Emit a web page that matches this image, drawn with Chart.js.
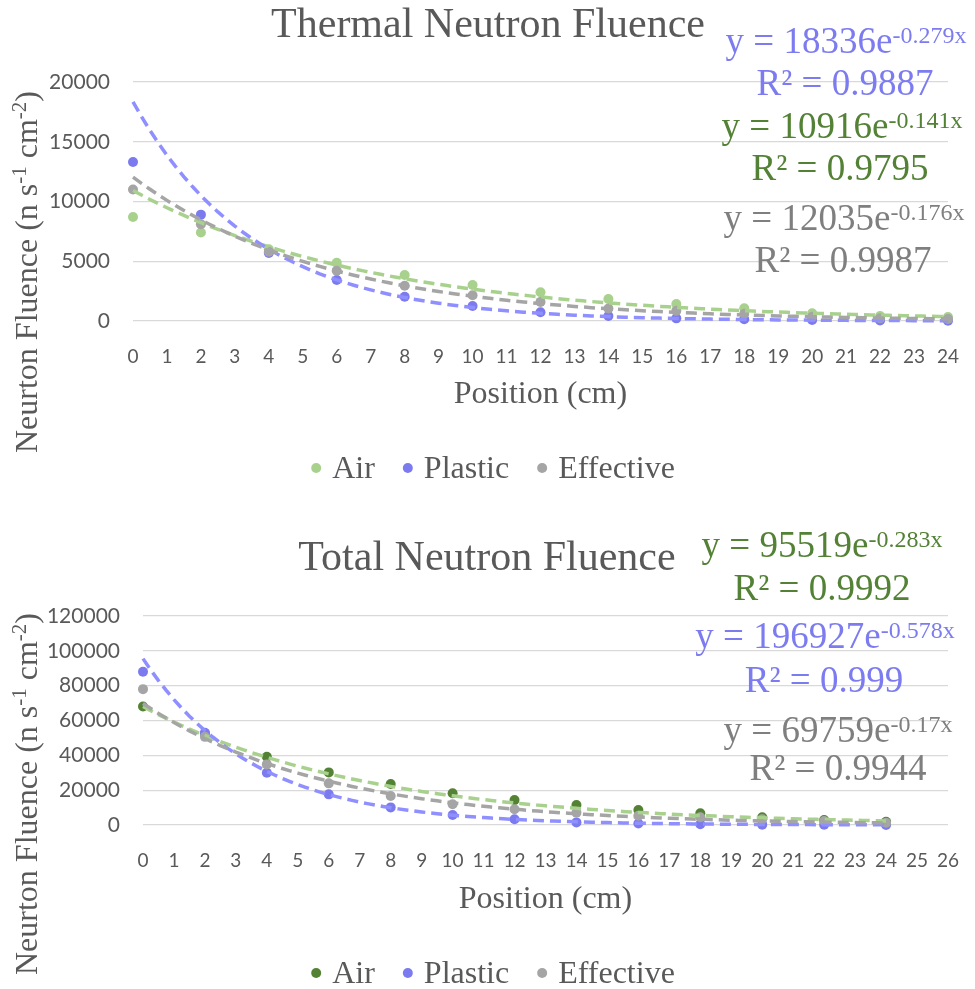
<!DOCTYPE html>
<html>
<head>
<meta charset="utf-8">
<script src="https://cdn.jsdelivr.net/npm/chart.js@4.4.0/dist/chart.umd.min.js"></script>
<style>
    body { margin: 0; background: #ffffff; }
    #wrap { position: relative; width: 975px; height: 989px; }
    canvas { position: absolute; left: 0; }
</style>
</head>
<body>
<div id="wrap">
    <canvas id="thermalCanvas" width="975" height="490" style="top:0px"></canvas>
    <canvas id="totalCanvas" width="975" height="499" style="top:490px"></canvas>
</div>
<script>
// 测量位置 (cm)
const positions = [0, 2, 4, 6, 8, 10, 12, 14, 16, 18, 20, 22, 24];
const seriesNames = ['Air', 'Plastic', 'Effective'];

// 热中子注量
const thermalAir = [8700, 7400, 6000, 4880, 3850, 3010, 2400, 1840, 1420, 1060, 640, 420, 330];
const thermalPlastic = [13300, 8900, 5700, 3430, 2035, 1255, 730, 420, 220, 140, 80, 50, 30];
const thermalEffective = [11000, 8100, 5800, 4200, 2950, 2150, 1600, 1050, 850, 600, 360, 230, 170];
const thermalYTicks = { max: 20000, step: 5000 };
// 指数趋势线 y = a·e^(-b·x)，顺序 Air / Plastic / Effective
const thermalTrendA = [10916, 18336, 12035];
const thermalTrendB = [0.141, 0.279, 0.176];

// 总中子注量
const totalAir = [68000, 52500, 39200, 30200, 23500, 18200, 14300, 11500, 8600, 6700, 4400, 2800, 1800];
const totalPlastic = [88000, 53000, 30000, 17600, 10100, 5700, 3300, 1500, 900, 400, 200, 100, 50];
const totalEffective = [78000, 50600, 34800, 23900, 16600, 11900, 9000, 7100, 5350, 4400, 3300, 2300, 1300];
const totalYTicks = { max: 120000, step: 20000 };
const totalTrendA = [68000, 95519, 69759];
const totalTrendB = [0.14, 0.283, 0.17];

const SERIF = '"Liberation Serif", "Times New Roman", serif';
const TEXT = '#595959';

function toPoints(ys) {
    return positions.map((x, i) => ({ x: x, y: ys[i] }));
}

function trendPoints(a, b, xEnd) {
    const pts = [];
    for (let x = 0; x <= xEnd + 1e-9; x += 0.25) {
        pts.push({ x: x, y: a * Math.exp(-b * x) });
    }
    return pts;
}

// 带上标的一行文字
function drawRich(ctx, parts, cx, baseY, color) {
    let total = 0;
    parts.forEach(p => {
        ctx.font = p.size + 'px ' + SERIF;
        p.w = ctx.measureText(p.text).width;
        total += p.w;
    });
    let x = cx - total / 2;
    ctx.fillStyle = color;
    ctx.textAlign = 'left';
    ctx.textBaseline = 'alphabetic';
    parts.forEach(p => {
        ctx.font = p.size + 'px ' + SERIF;
        ctx.fillText(p.text, x, baseY - (p.raise || 0));
        x += p.w;
    });
}

const decorPlugin = {
    id: 'decor',
    afterDraw(chart, args, opts) {
        const ctx = chart.ctx;
        const area = chart.chartArea;
        ctx.save();

        // 标题
        drawRich(ctx, [{ text: opts.title, size: 42 }], opts.titleX, opts.titleY, TEXT);

        // x 轴标题
        drawRich(ctx, [{ text: 'Position (cm)', size: 32 }], (area.left + area.right) / 2, opts.xTitleY, TEXT);

        // y 轴标题（旋转）
        ctx.save();
        ctx.translate(opts.yTitleX, opts.yTitleY);
        ctx.rotate(-Math.PI / 2);
        drawRich(ctx, [
            { text: 'Neurton Fluence (n s', size: 32 },
            { text: '-1', size: 21, raise: 11 },
            { text: ' cm', size: 32 },
            { text: '-2', size: 21, raise: 11 },
            { text: ')', size: 32 }
        ], 0, 0, TEXT);
        ctx.restore();

        // 图例
        const items = chart.data.datasets.filter(d => d.isSeries);
        ctx.font = '32px ' + SERIF;
        const r = 5, markGap = 11, itemGap = 28;
        let total = 0;
        items.forEach((d, i) => {
            d._lw = ctx.measureText(d.label).width;
            total += 2 * r + markGap + d._lw + (i < items.length - 1 ? itemGap : 0);
        });
        let x = opts.legendX - total / 2;
        items.forEach(d => {
            ctx.beginPath();
            ctx.arc(x + r, opts.legendY, r, 0, Math.PI * 2);
            ctx.fillStyle = d.pointBackgroundColor;
            ctx.fill();
            x += 2 * r + markGap;
            ctx.fillStyle = TEXT;
            ctx.textAlign = 'left';
            ctx.textBaseline = 'alphabetic';
            ctx.fillText(d.label, x, opts.legendY + 10);
            x += d._lw + itemGap;
        });

        // 趋势线公式
        opts.equations.forEach(eq => {
            drawRich(ctx, eq.parts, eq.x, eq.y, eq.color);
        });

        ctx.restore();
    }
};

function buildChart(canvasId, cfg) {
    const ctx = document.getElementById(canvasId).getContext('2d');
    const datasets = [];
    const seriesData = [cfg.air, cfg.plastic, cfg.effective];
    const pointColors = [cfg.airColor, '#7B7BEF', '#A5A5A5'];
    const trendColors = ['#A9D18E', '#8F8FFF', '#A5A5A5'];

    // 趋势线在上层：Effective 最上
    for (let i = 0; i < 3; i++) {
        datasets.push({
            label: seriesNames[i] + ' trend',
            data: trendPoints(cfg.trendA[i], cfg.trendB[i], 24),
            showLine: true,
            borderColor: trendColors[i],
            borderWidth: 3.5,
            borderDash: [11, 6],
            pointRadius: 0,
            fill: false,
            tension: 0,
            clip: false,
            order: 2 - i
        });
    }
    for (let i = 0; i < 3; i++) {
        datasets.push({
            label: seriesNames[i],
            isSeries: true,
            data: toPoints(seriesData[i]),
            showLine: false,
            pointRadius: 5,
            pointBorderWidth: 0,
            pointBackgroundColor: pointColors[i],
            backgroundColor: pointColors[i],
            borderColor: pointColors[i],
            clip: false,
            order: 5 - i
        });
    }

    return new Chart(ctx, {
        type: 'scatter',
        data: { datasets: datasets },
        plugins: [decorPlugin],
        options: {
            responsive: false,
            animation: false,
            devicePixelRatio: 1,
            events: [],
            layout: {
                padding: { left: 0, right: cfg.padRight, top: cfg.padTop, bottom: cfg.padBottom }
            },
            plugins: {
                legend: { display: false },
                tooltip: { enabled: false },
                title: { display: false },
                decor: cfg.decor
            },
            scales: {
                x: {
                    type: 'linear',
                    min: 0,
                    max: cfg.xMax,
                    ticks: {
                        stepSize: 1,
                        autoSkip: false,
                        maxRotation: 0,
                        padding: 16,
                        color: TEXT,
                        font: { family: 'Lato', size: 19 },
                        callback: v => String(v)
                    },
                    grid: { display: false },
                    border: { display: false },
                    afterFit: s => { s.height = 60; }
                },
                y: {
                    min: 0,
                    max: cfg.yTicks.max,
                    ticks: {
                        stepSize: cfg.yTicks.step,
                        padding: 23,
                        color: TEXT,
                        font: { family: 'Lato', size: 21 },
                        callback: v => String(v)
                    },
                    grid: { color: '#D9D9D9', lineWidth: 1.3, drawTicks: false },
                    border: { display: false },
                    afterFit: s => { s.width = cfg.yWidth; }
                }
            }
        }
    });
}

const BLUE_TEXT = '#7C7CF0';
const GREEN_TEXT = '#538135';
const GRAY_TEXT = '#7F7F7F';

function eqLine(base, exp, color, x, y) {
    return {
        parts: [{ text: base, size: 37 }, { text: exp, size: 24, raise: 10 }],
        color: color, x: x, y: y
    };
}
function r2Line(text, color, x, y) {
    return { parts: [{ text: text, size: 37 }], color: color, x: x, y: y };
}

buildChart('thermalCanvas', {
    air: thermalAir, plastic: thermalPlastic, effective: thermalEffective,
    airColor: '#A9D18E',
    trendA: thermalTrendA, trendB: thermalTrendB,
    yTicks: thermalYTicks, xMax: 24,
    yWidth: 133, padRight: 15, padTop: 82, padBottom: 490 - 321 - 60,
    decor: {
        title: 'Thermal Neutron Fluence', titleX: 488, titleY: 37,
        xTitleY: 403, yTitleX: 37, yTitleY: 272,
        legendX: 493, legendY: 468,
        equations: [
            eqLine('y = 18336e', '-0.279x', BLUE_TEXT, 846, 53),
            r2Line('R² = 0.9887', BLUE_TEXT, 845, 95),
            eqLine('y = 10916e', '-0.141x', GREEN_TEXT, 842, 138),
            r2Line('R² = 0.9795', GREEN_TEXT, 840, 180),
            eqLine('y = 12035e', '-0.176x', GRAY_TEXT, 844, 230),
            r2Line('R² = 0.9987', GRAY_TEXT, 843, 272)
        ]
    }
});

buildChart('totalCanvas', {
    air: totalAir, plastic: totalPlastic, effective: totalEffective,
    airColor: '#548235',
    trendA: totalTrendA, trendB: totalTrendB,
    yTicks: totalYTicks, xMax: 26,
    yWidth: 143, padRight: 13, padTop: 126, padBottom: 499 - 335 - 60,
    decor: {
        title: 'Total Neutron Fluence', titleX: 487, titleY: 80,
        xTitleY: 418, yTitleX: 37, yTitleY: 304,
        legendX: 493, legendY: 483,
        equations: [
            eqLine('y = 95519e', '-0.283x', GREEN_TEXT, 822, 67),
            r2Line('R² = 0.9992', GREEN_TEXT, 822, 110),
            eqLine('y = 196927e', '-0.578x', BLUE_TEXT, 825, 158),
            r2Line('R² = 0.999', BLUE_TEXT, 824, 202),
            eqLine('y = 69759e', '-0.17x', GRAY_TEXT, 838, 252),
            r2Line('R² = 0.9944', GRAY_TEXT, 838, 290)
        ]
    }
});
</script>
</body>
</html>
